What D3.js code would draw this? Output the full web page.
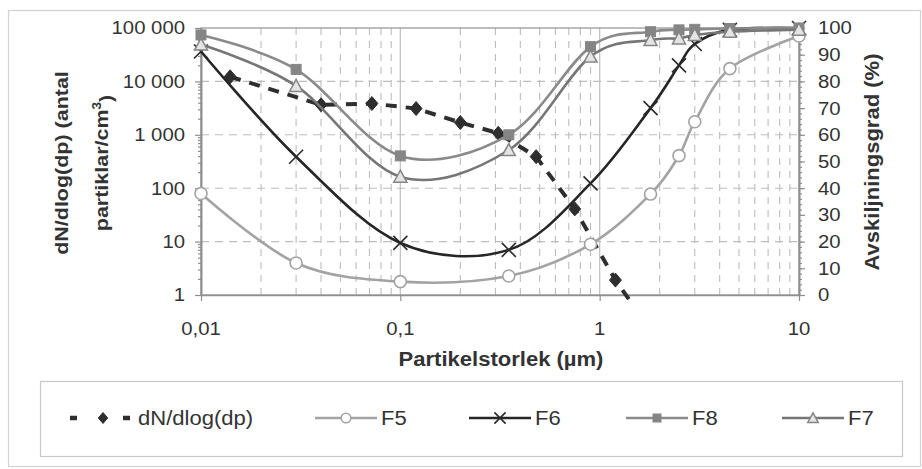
<!DOCTYPE html>
<html>
<head>
<meta charset="utf-8">
<script src="https://cdn.jsdelivr.net/npm/d3@7"></script>
<style>
  html, body { margin: 0; padding: 0; background: #fff; }
  svg { display: block; }
  text { font-family: "Liberation Sans", Arial, sans-serif; fill: #333; }
</style>
</head>
<body>
<svg id="chart" width="922" height="469"></svg>
<script>
// Particle sizes (µm) where the separation efficiency was measured
const sizes = [0.01, 0.03, 0.1, 0.35, 0.9, 1.8, 2.5, 3, 4.5, 10];
// Separation efficiency (%) per filter
const f5 = [38, 12, 5, 7.1, 19, 37.8, 52.2, 64.9, 84.8, 97];
const f6 = [91.2, 51.8, 19.5, 16.9, 41.8, 70, 86, 94, 99.3, 100];
const f8 = [97.4, 84.5, 52.1, 60, 93, 98.6, 99.3, 99.5, 99.8, 100];
const f7 = [93.8, 78.3, 44.3, 54.3, 89.3, 95.5, 96.1, 97.4, 98.6, 99.4];
// Particle number size distribution dN/dlog(dp) (particles/cm³)
const dnSizes = [0.014, 0.04, 0.072, 0.12, 0.2, 0.31, 0.48, 0.75, 1.2, 1.45];
const dnValues = [12200, 3650, 3850, 3100, 1700, 1070, 390, 41, 1.9, 0.7];
// Axis ticks
const xTicks = [0.01, 0.1, 1, 10];
const yLeftTicks = [1, 10, 100, 1000, 10000, 100000];
const yRightTicks = [0, 10, 20, 30, 40, 50, 60, 70, 80, 90, 100];
// Legend entries
const legendNames = ["dN/dlog(dp)", "F5", "F6", "F8", "F7"];

const svg = d3.select("#chart");
const P = { left: 201, right: 799, top: 28, bottom: 295 };
const SX = 1.13; // horizontal stretch of the lettering

const x = d3.scaleLog().domain([0.01, 10]).range([P.left, P.right]);
const yL = d3.scaleLog().domain([1, 100000]).range([P.bottom, P.top]);
const yR = d3.scaleLinear().domain([0, 100]).range([P.bottom, P.top]);

const loc = d3.formatLocale({ decimal: ",", thousands: " ", grouping: [3], currency: ["", ""] });
const fmtL = loc.format(",");
const fmtX = loc.format("~g");

function label(g, px, py, str, o = {}) {
  const t = g.append("text")
    .attr("transform", `translate(${px},${py}) rotate(${o.rot || 0}) scale(${SX},1)`)
    .attr("text-anchor", o.anchor || "start")
    .attr("dy", o.dy || "0")
    .style("font-size", (o.size || 18) + "px")
    .style("font-weight", o.bold ? "bold" : "normal")
    .text(str);
  return t;
}

// Outer frame
svg.append("rect").attr("x", 8.5).attr("y", 10.5).attr("width", 912).attr("height", 456)
  .attr("fill", "#fff").attr("stroke", "#d2d2d2").attr("stroke-width", 1.2);

// Grid
const grid = svg.append("g");
const minorX = [];
[0.01, 0.1, 1].forEach(d => { for (let k = 2; k <= 9; k++) minorX.push(d * k); });
grid.selectAll(".vx").data(minorX).join("line")
  .attr("x1", d => x(d)).attr("x2", d => x(d)).attr("y1", P.top).attr("y2", P.bottom)
  .attr("stroke", "#bdbdbd").attr("stroke-width", 1.1).attr("stroke-dasharray", "7,6");
grid.selectAll(".vmaj").data([0.1, 1]).join("line")
  .attr("x1", d => x(d)).attr("x2", d => x(d)).attr("y1", P.top).attr("y2", P.bottom)
  .attr("stroke", "#c4c4c4").attr("stroke-width", 1.3);
grid.selectAll(".hy").data([10, 100, 1000, 10000]).join("line")
  .attr("x1", P.left).attr("x2", P.right).attr("y1", d => yL(d)).attr("y2", d => yL(d))
  .attr("stroke", "#bdbdbd").attr("stroke-width", 1.1).attr("stroke-dasharray", "8,6");

// Plot frame
svg.append("rect").attr("x", P.left).attr("y", P.top)
  .attr("width", P.right - P.left).attr("height", P.bottom - P.top)
  .attr("fill", "none").attr("stroke", "#9a9a9a").attr("stroke-width", 1.3);

// Axes
const axisColor = "#8f8f8f";
const gL = svg.append("g").attr("transform", `translate(${P.left},0)`)
  .call(d3.axisLeft(yL).tickValues(yLeftTicks).tickFormat("").tickSize(6).tickSizeOuter(0));
const minorY = [];
[1, 10, 100, 1000, 10000].forEach(d => { for (let k = 2; k <= 9; k++) minorY.push(d * k); });
const gLm = svg.append("g").attr("transform", `translate(${P.left},0)`)
  .call(d3.axisLeft(yL).tickValues(minorY).tickFormat("").tickSize(3).tickSizeOuter(0));
const gR = svg.append("g").attr("transform", `translate(${P.right},0)`)
  .call(d3.axisRight(yR).tickValues(yRightTicks).tickFormat("").tickSize(6).tickSizeOuter(0));
const gRm = svg.append("g").attr("transform", `translate(${P.right},0)`)
  .call(d3.axisRight(yR).tickValues(d3.range(0, 101, 2)).tickFormat("").tickSize(3).tickSizeOuter(0));
const gB = svg.append("g").attr("transform", `translate(0,${P.bottom})`)
  .call(d3.axisBottom(x).tickValues(xTicks).tickFormat("").tickSize(6).tickSizeOuter(0));
[gL, gLm, gR, gRm, gB].forEach(g => {
  g.selectAll("path").attr("stroke", axisColor).attr("stroke-width", 1.6);
  g.selectAll("line").attr("stroke", axisColor).attr("stroke-width", 1.2);
});

// Tick labels
const lab = svg.append("g");
yLeftTicks.forEach(v => label(lab, 185, yL(v), fmtL(v), { anchor: "end", dy: "0.36em", size: 18 }));
yRightTicks.forEach(v => label(lab, 818, yR(v), String(v), { anchor: "start", dy: "0.36em", size: 18 }));
xTicks.forEach(v => label(lab, x(v), 335, fmtX(v), { anchor: "middle", size: 18 }));

// Axis titles
label(lab, 501, 366, "Partikelstorlek  (µm)", { anchor: "middle", bold: true, size: 19.5 });
label(lab, 879, 162, "Avskiljningsgrad (%)", { anchor: "middle", bold: true, size: 19.5, rot: -90 });
label(lab, 68, 163, "dN/dlog(dp)  (antal", { anchor: "middle", bold: true, size: 19, rot: -90 });
const t2 = label(lab, 108, 163, "partiklar/cm", { anchor: "middle", bold: true, size: 19, rot: -90 });
t2.append("tspan").attr("dy", "-0.55em").style("font-size", "12px").text("3");
t2.append("tspan").attr("dy", "0.55em").text(")");

// Marker shapes
const sym = {
  diamond: (g, px, py, s) => g.append("path")
    .attr("d", `M${px},${py - s}L${px + s * 0.85},${py}L${px},${py + s}L${px - s * 0.85},${py}Z`)
    .attr("fill", "#2e2e2e").attr("stroke", "#2e2e2e").attr("stroke-width", 1),
  circle: (g, px, py, s) => g.append("circle").attr("cx", px).attr("cy", py).attr("r", s)
    .attr("fill", "#fff").attr("stroke", "#a3a3a3").attr("stroke-width", 1.6),
  cross: (g, px, py, s) => g.append("path")
    .attr("d", `M${px - s},${py - s}L${px + s},${py + s}M${px - s},${py + s}L${px + s},${py - s}`)
    .attr("stroke", "#2a2a2a").attr("stroke-width", 1.6).attr("fill", "none"),
  square: (g, px, py, s) => g.append("rect").attr("x", px - s).attr("y", py - s)
    .attr("width", 2 * s).attr("height", 2 * s)
    .attr("fill", "#858585").attr("stroke", "#858585").attr("stroke-width", 1),
  triangle: (g, px, py, s) => g.append("path")
    .attr("d", `M${px},${py - s}L${px + s},${py + s * 0.85}L${px - s},${py + s * 0.85}Z`)
    .attr("fill", "#e4e4e4").attr("stroke", "#858585").attr("stroke-width", 1.5)
};

// Clip for the size distribution line, which runs just past the axis floor
svg.append("clipPath").attr("id", "clipDn").append("rect")
  .attr("x", P.left).attr("y", P.top).attr("width", P.right - P.left).attr("height", P.bottom - P.top + 8);

const plot = svg.append("g");

// dN/dlog(dp) series on the left log axis
const dnData = dnSizes.map((s, i) => ({ s, v: dnValues[i] }));
plot.append("path").datum(dnData)
  .attr("clip-path", "url(#clipDn)")
  .attr("d", d3.line().x(d => x(d.s)).y(d => yL(d.v)))
  .attr("fill", "none").attr("stroke", "#2e2e2e").attr("stroke-width", 4)
  .attr("stroke-dasharray", "11,9");
dnData.filter(d => d.v >= 1).forEach(d => sym.diamond(plot, x(d.s), yL(d.v), 7));

// Efficiency series on the right axis, smoothed
const series = [
  { name: "F5", vals: f5, color: "#a3a3a3", mark: "circle", ms: 6 },
  { name: "F6", vals: f6, color: "#262626", mark: "cross", ms: 7 },
  { name: "F8", vals: f8, color: "#8a8a8a", mark: "square", ms: 5 },
  { name: "F7", vals: f7, color: "#767676", mark: "triangle", ms: 6.5 }
];
const smooth = d3.line().x(d => x(d[0])).y(d => yR(d[1])).curve(d3.curveCardinal.tension(0));
series.forEach(se => {
  const pts = sizes.map((s, i) => [s, se.vals[i]]);
  plot.append("path").datum(pts).attr("d", smooth)
    .attr("fill", "none").attr("stroke", se.color).attr("stroke-width", 2.6);
  pts.forEach(p => sym[se.mark](plot, x(p[0]), yR(p[1]), se.ms));
});

// Legend
const lg = svg.append("g");
lg.append("rect").attr("x", 40.5).attr("y", 381.5).attr("width", 862).attr("height", 75)
  .attr("fill", "#fff").attr("stroke", "#c8c8c8").attr("stroke-width", 1.2);
const ly = 418;
lg.append("line").attr("x1", 70).attr("x2", 130).attr("y1", ly).attr("y2", ly)
  .attr("stroke", "#2e2e2e").attr("stroke-width", 4.5).attr("stroke-dasharray", "7,46");
sym.diamond(lg, 103, ly, 5.5);
label(lg, 138, ly, legendNames[0], { dy: "0.36em", size: 19.5 });
const legendX = [315, 469, 626, 782];
series.forEach((se, i) => {
  const lx = legendX[i];
  lg.append("line").attr("x1", lx).attr("x2", lx + 62).attr("y1", ly).attr("y2", ly)
    .attr("stroke", se.color).attr("stroke-width", 2.6);
  sym[se.mark](lg, lx + 31, ly, se.ms * 0.8);
  label(lg, lx + 66, ly, legendNames[i + 1], { dy: "0.36em", size: 19.5 });
});
</script>
</body>
</html>
